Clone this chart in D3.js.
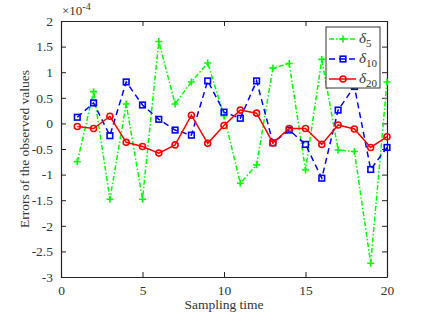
<!DOCTYPE html>
<html>
<head>
<meta charset="utf-8">
<script src="https://cdn.jsdelivr.net/npm/d3@7"></script>
<style>
  body { margin: 0; background: #fff; }
  svg { display: block; }
  svg text { font-family: 'Liberation Serif', 'Times New Roman', Times, serif !important; }
</style>
</head>
<body>
<div id="chart"></div>
<script>
// data (values in units of 1e-4)
const samples = d3.range(1, 21);
const delta5 = [-0.75, 0.62, -1.48, 0.38, -1.48, 1.6, 0.38, 0.81, 1.18, 0.15,
                -1.17, -0.81, 1.08, 1.17, -0.91, 1.25, -0.52, -0.55, -2.73, 0.81];
const delta10 = [0.12, 0.4, -0.24, 0.81, 0.36, 0.08, -0.13, -0.23, 0.83, 0.22,
                 0.1, 0.83, -0.38, -0.13, -0.41, -1.07, 0.26, 0.72, -0.9, -0.47];
const delta20 = [-0.06, -0.1, 0.14, -0.37, -0.45, -0.58, -0.42, 0.16, -0.39, -0.04,
                 0.26, 0.2, -0.38, -0.1, -0.1, -0.41, -0.03, -0.11, -0.47, -0.26];
const xTicks = [0, 5, 10, 15, 20];
const yTicks = [2, 1.5, 1, 0.5, 0, -0.5, -1, -1.5, -2, -2.5, -3];

// set the dimensions and margins of the graph
var margin = {top: 21, right: 54, bottom: 43, left: 61},
    width = 441 - margin.left - margin.right,
    height = 320 - margin.top - margin.bottom;

let svg = d3.select("#chart")
  .append("svg")
    .attr("width", 441)
    .attr("height", 320)
  .append("g")
    .attr("transform", `translate(${margin.left}, ${margin.top})`);

const x = d3.scaleLinear().domain([0, 20]).range([0, width]);
const y = d3.scaleLinear().domain([-3, 2]).range([height, 0]);

// axes, ticks pointing inward
const fmt = d => String(d);
const axes = [
  svg.append("g")
    .attr("transform", `translate(0, ${height})`)
    .call(d3.axisBottom(x).tickValues(xTicks).tickSizeInner(-5).tickSizeOuter(0).tickPadding(8).tickFormat(fmt)),
  svg.append("g")
    .call(d3.axisTop(x).tickValues(xTicks).tickSizeInner(-5).tickSizeOuter(0).tickFormat("")),
  svg.append("g")
    .call(d3.axisLeft(y).tickValues(yTicks).tickSizeInner(-5).tickSizeOuter(0).tickPadding(8).tickFormat(fmt)),
  svg.append("g")
    .attr("transform", `translate(${width}, 0)`)
    .call(d3.axisRight(y).tickValues(yTicks).tickSizeInner(-5).tickSizeOuter(0).tickFormat(""))
];
axes.forEach(a => a.attr("font-size", 13.5));

svg.selectAll(".domain").attr("stroke", "#222").attr("stroke-width", 1.2);
svg.selectAll(".tick line").attr("stroke", "#222");
svg.selectAll(".tick text").attr("fill", "#333");

// exponent label
const expo = svg.append("text")
    .attr("x", 1)
    .attr("y", -6)
    .attr("fill", "#333")
    .style("font-size", "13px");
expo.append("tspan").text("\u00d710");
expo.append("tspan").text("-4").attr("dy", -5).style("font-size", "10px");

// axis titles
svg.append("text")
    .text("Sampling time")
    .attr("x", width / 2)
    .attr("y", height + 32)
    .attr("text-anchor", "middle")
    .attr("fill", "#333")
    .style("font-size", "13.5px");
svg.append("text")
    .text("Errors of the observed values")
    .attr("transform", `translate(-32, ${height / 2}) rotate(-90)`)
    .attr("text-anchor", "middle")
    .attr("fill", "#333")
    .style("font-size", "13.5px");

const series = [
  {name: "5", values: delta5, color: "#00ff00", dash: "5,2,1.5,2", marker: "plus"},
  {name: "10", values: delta10, color: "#0000ff", dash: "6,4", marker: "square"},
  {name: "20", values: delta20, color: "#ff0000", dash: null, marker: "circle"}
];

const line = d3.line().x((d, i) => x(samples[i])).y(d => y(d));

function drawMarker(g, type, color) {
  if (type === "plus") {
    g.append("path").attr("d", "M-3.5,0H3.5M0,-3.5V3.5")
      .attr("stroke", color).attr("stroke-width", 1.6).attr("fill", "none");
  } else if (type === "square") {
    g.append("rect").attr("x", -2.8).attr("y", -2.8).attr("width", 5.6).attr("height", 5.6)
      .attr("stroke", color).attr("stroke-width", 1.6).attr("fill", "none");
  } else {
    g.append("circle").attr("r", 3)
      .attr("stroke", color).attr("stroke-width", 1.6).attr("fill", "none");
  }
}

series.forEach(s => {
  svg.append("path")
    .datum(s.values)
    .attr("d", line)
    .attr("fill", "none")
    .attr("stroke", s.color)
    .attr("stroke-width", 1.5)
    .attr("stroke-dasharray", s.dash);
  s.values.forEach((v, i) => {
    const g = svg.append("g").attr("transform", `translate(${x(samples[i])}, ${y(v)})`);
    drawMarker(g, s.marker, s.color);
  });
});

// legend
const lg = svg.append("g").attr("transform", `translate(${width - 61}, 6)`);
lg.append("rect")
    .attr("width", 54).attr("height", 61)
    .attr("fill", "#fff").attr("stroke", "#333").attr("stroke-width", 1);
series.forEach((s, i) => {
  const yy = 12 + i * 20;
  lg.append("line")
    .attr("x1", 3).attr("x2", 30).attr("y1", yy).attr("y2", yy)
    .attr("stroke", s.color).attr("stroke-width", 1.5)
    .attr("stroke-dasharray", s.dash);
  drawMarker(lg.append("g").attr("transform", `translate(17, ${yy})`), s.marker, s.color);
  const t = lg.append("text").attr("x", 33).attr("y", yy + 4).attr("fill", "#333")
    .style("font-size", "15px");
  t.append("tspan").text("\u03b4").style("font-style", "italic");
  t.append("tspan").text(s.name).attr("dy", 4).style("font-size", "11px");
});
</script>
</body>
</html>
